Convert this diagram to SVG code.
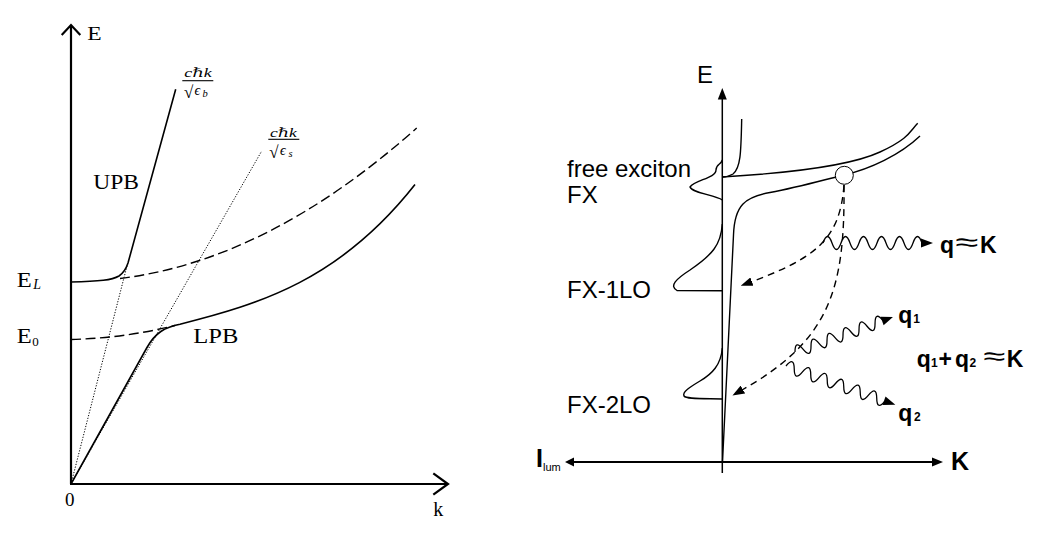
<svg xmlns="http://www.w3.org/2000/svg" width="1055" height="538" viewBox="0 0 1055 538">
<style>
.ser{font-family:"Liberation Serif","DejaVu Serif",serif;fill:#000}
.it{font-style:italic}
.san{font-family:"Liberation Sans",Arial,sans-serif;fill:#000}
.b{font-weight:bold}
.ax{fill:none;stroke:#000;stroke-width:2.2}
.cv{fill:none;stroke:#000;stroke-width:1.6}
.ds{fill:none;stroke:#000;stroke-width:1.4;stroke-dasharray:10 4.5}
.dt{fill:none;stroke:#000;stroke-width:1;stroke-dasharray:1.2 1.6}
.rl{fill:none;stroke:#000;stroke-width:1.4}
.rd{fill:none;stroke:#000;stroke-width:1.4;stroke-dasharray:7 5}
.wv{fill:none;stroke:#000;stroke-width:1.3}
</style>
<defs>
<marker id="tri" markerUnits="userSpaceOnUse" markerWidth="12" markerHeight="9" viewBox="0 0 12 9" refX="1" refY="4.5" orient="auto"><path d="M0,0 L12,4.5 L0,9 Z" fill="#000"/></marker>
</defs>
<rect width="1055" height="538" fill="#fff"/>

<!-- LEFT PANEL -->
<g id="left-axes">
<path class="ax" d="M71,484 V26 M61.7,35 L71,25 L80.3,35"/>
<path class="ax" d="M70,484 H447 M433.3,473.4 L448,484 L433.3,494.6"/>
<text class="ser" x="87.3" y="40" font-size="19" textLength="14.4" lengthAdjust="spacingAndGlyphs">E</text>
<text class="ser" x="65" y="506" font-size="19">0</text>
<text class="ser" x="433.3" y="516" font-size="20">k</text>
</g>
<g id="left-curves">
<path class="cv" d="M71,282 C100,281.5 112,280 119,276 Q125,272 128,263 L175.7,89.2"/>
<path class="ds" d="M120,278.5 Q268.35,260.2 416.7,128"/>
<path class="ds" d="M71,339.5 Q125,338 175,325.5"/>
<path class="cv" d="M71,484 L146.7,348 C155,333 165,327 180,324.2 C260,304 340,280 415,184.6"/>
<path class="dt" d="M71,484 L127,266"/>
<path class="dt" d="M71,484 L261.7,151"/>
</g>
<g id="left-labels">
<text class="ser" x="16.7" y="287.3" font-size="20" textLength="15" lengthAdjust="spacingAndGlyphs">E</text>
<text class="ser it" x="33.3" y="289" font-size="14">L</text>
<text class="ser" x="16.7" y="343.3" font-size="20" textLength="15" lengthAdjust="spacingAndGlyphs">E</text>
<text class="ser" x="32.3" y="346" font-size="13">0</text>
<text class="ser" x="93.3" y="188.5" font-size="22" textLength="45.7" lengthAdjust="spacingAndGlyphs">UPB</text>
<text class="ser" x="193.3" y="343.3" font-size="22" textLength="45" lengthAdjust="spacingAndGlyphs">LPB</text>
</g>
<g id="frac-b">
<text class="ser it" x="184.3" y="77.3" font-size="12.5" textLength="27.4" lengthAdjust="spacingAndGlyphs">cℏk</text>
<line x1="182.3" y1="80.7" x2="213.3" y2="80.7" stroke="#000" stroke-width="1.1"/>
<text class="ser" x="184" y="98" font-size="17">√</text>
<text class="ser it" x="194.5" y="95" font-size="14">ϵ</text>
<text class="ser it" x="202.5" y="96.5" font-size="10.5">b</text>
</g>
<g id="frac-s">
<text class="ser it" x="270" y="136.5" font-size="12.5" textLength="26.7" lengthAdjust="spacingAndGlyphs">cℏk</text>
<line x1="268.3" y1="139.3" x2="299.3" y2="139.3" stroke="#000" stroke-width="1.1"/>
<text class="ser" x="269.3" y="158" font-size="17">√</text>
<text class="ser it" x="280" y="155" font-size="14">ϵ</text>
<text class="ser it" x="288.5" y="156.5" font-size="10.5">s</text>
</g>

<!-- RIGHT PANEL -->
<g id="right-axes">
<line x1="722.3" y1="473" x2="722.3" y2="98" stroke="#000" stroke-width="1.5"/>
<polygon points="722.3,88 717.8,99.5 726.8,99.5" fill="#000"/>
<line x1="572" y1="462" x2="934" y2="462" stroke="#000" stroke-width="2"/>
<polygon points="565,462 574,457.5 574,466.5" fill="#000"/>
<polygon points="943,462 932,457.5 932,466.5" fill="#000"/>
<text class="san" x="697" y="83" font-size="24">E</text>
<text class="san b" x="951" y="470" font-size="25">K</text>
<text class="san" x="536" y="467"><tspan class="b" font-size="25">I</tspan><tspan x="543" y="470.5" font-size="11">lum</tspan></text>
</g>
<g id="dispersion">
<path class="rl" d="M741.7,119 C741,150 741,168 733,174 C729,176.5 726,177 722,177"/>
<path class="rl" d="M722,177 C790,173 850,166 880,152 S910,131 917.7,123.3"/>
<path class="rl" d="M722.5,462 L733.5,235 C734.5,205 745,197 770,192.5 C800,187 825,179.5 844,175 C870,169 900,155 920,136"/>
<circle cx="844.3" cy="175.3" r="9" fill="#fff" stroke="#000" stroke-width="1"/>
</g>
<g id="spectrum">
<path class="rl" d="M722.3,160 C721,165 716,164 716,170 C716,178 695,180 690,187 C692,193 715,195 722.3,200"/>
<path class="rl" d="M722.3,224 C721,245 712,255 690,270 C676,279 669,286 677,290.5 L722.3,290.7"/>
<path class="rl" d="M722.3,348 C721,365 712,374 700,381 C690,387 682,392 684,396 C686,399 700,398.5 722.3,399"/>
</g>
<g id="spectrum-labels">
<text class="san" x="567" y="177" font-size="24">free exciton</text>
<text class="san" x="567" y="203" font-size="24">FX</text>
<text class="san" x="567" y="298" font-size="24">FX-1LO</text>
<text class="san" x="567" y="413" font-size="24">FX-2LO</text>
</g>
<g id="connectors">
<path class="rd" d="M844,185 C840,240 815,258 751,282" marker-end="url(#tri)"/>
<path class="rd" d="M844,185 C845,290 830,340 742,390" marker-end="url(#tri)"/>
<g transform="translate(823,243)">
<path class="wv" d="M0,0 q4.5,-13 9,0 t9,0 t9,0 t9,0 t9,0 t9,0 t9,0 t9,0 t9,0 t9,0 t9,0"/>
<polygon points="98,-4.5 110,0 98,4.5" fill="#000"/>
</g>
<g transform="translate(795,352) rotate(-19.65)">
<path class="wv" d="M0,0 q4.25,-12 8.5,0 t8.5,0 t8.5,0 t8.5,0 t8.5,0 t8.5,0 t8.5,0 t8.5,0 t8.5,0 t8.5,0 t8.5,0"/>
<polygon points="92.5,-4.5 104,0 92.5,4.5" fill="#000"/>
</g>
<g transform="translate(786,366) rotate(19.5)">
<path class="wv" d="M0,0 q4.375,-12 8.75,0 t8.75,0 t8.75,0 t8.75,0 t8.75,0 t8.75,0 t8.75,0 t8.75,0 t8.75,0 t8.75,0 t8.75,0 t8.75,0"/>
<polygon points="104,-4.5 116,0 104,4.5" fill="#000"/>
</g>
</g>
<g id="phonon-labels">
<text class="san b" x="940" y="253" font-size="23">q</text>
<text class="san" x="955" y="251" font-size="26" textLength="23" lengthAdjust="spacingAndGlyphs">≈</text>
<text class="san b" x="980" y="253" font-size="23">K</text>
<text class="san b" x="898.3" y="323" font-size="23">q<tspan x="913.3" font-size="12">1</tspan></text>
<text class="san b" x="916.7" y="367" font-size="23">q<tspan x="931" font-size="12">1</tspan><tspan x="938.5" font-size="23">+</tspan><tspan x="955" font-size="23">q</tspan><tspan x="969.5" font-size="12">2</tspan></text>
<text class="san" x="983" y="365" font-size="26" textLength="22" lengthAdjust="spacingAndGlyphs">≈</text>
<text class="san b" x="1006.7" y="367" font-size="23">K</text>
<text class="san b" x="898.3" y="421" font-size="23">q<tspan x="914" font-size="12">2</tspan></text>
</g>
</svg>
